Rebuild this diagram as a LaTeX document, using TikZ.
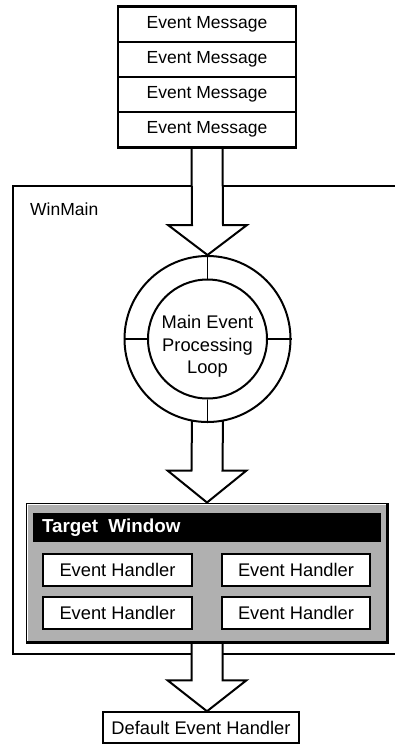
\documentclass[tikz,border=0pt]{standalone}
\usepackage{fontspec}
\setmainfont{Liberation Sans}
\usetikzlibrary{calc}
\pgfdeclarelayer{back}
\pgfdeclarelayer{mid}
\pgfsetlayers{back,mid,main}
\newcommand{\dfont}{\fontsize{18.3}{22.5}\selectfont}
\newcommand{\mfont}{\fontsize{17.5}{22.5}\selectfont}
\begin{document}
\begin{tikzpicture}[x=1pt,y=-1pt,
  msg/.style={draw, line width=1.3pt, minimum width=177pt, minimum height=35pt, inner sep=0pt, font=\mfont, fill=white},
  handler/.style={draw, fill=white, line width=1.8pt, minimum width=148.5pt, minimum height=32pt, inner sep=0pt, font=\dfont},
  barrow/.style={draw, fill=white, line width=2pt, line join=miter},
  ring/.style={circle, draw, line width=2pt, inner sep=0pt},
  tick/.style={line width=1.3pt}]
\useasboundingbox (0,0) rectangle (394,745);

% event messages
\node[msg] (m1) at (207,24.5) {Event Message};
\node[msg] (m2) at (207,59.5) {Event Message};
\node[msg] (m3) at (207,94.5) {Event Message};
\node[msg] (m4) at (207,129.5) {Event Message};
\draw[line width=2.2pt] (m1.north west) rectangle (m4.south east);

% WinMain frame
\begin{pgfonlayer}{back}
\draw[line width=2.5pt] (396,186) -- (13,186) -- (13,654) -- (396,654);
\end{pgfonlayer}
\node[anchor=west, font=\mfont, inner sep=0pt] (winmain) at (30,209) {WinMain};

% main loop
\node[ring, fill=white, minimum size=166pt] (loop) at (207.5,339) {};
\node[ring, minimum size=119pt] (inner) at (207.5,339) {};
\draw[tick] (loop.north) -- (inner.north);
\draw[tick] (loop.south) -- (inner.south);
\draw[tick] (loop.west) -- (inner.west);
\draw[tick] (loop.east) -- (inner.east);
\node[align=center, font=\dfont, inner sep=0pt] (looptext) at (207.5,346.5) {Main Event\\Processing\\Loop};

% target window
\node[draw, line width=1pt, fill=black!31, minimum width=362pt, minimum height=140pt, inner sep=0pt] (target) at (207,573) {};
\draw[line width=3pt] ($(target.south west)+(1,-1.5)$) -- ($(target.south east)+(-1.5,-1.5)$) -- ($(target.north east)+(-1.5,1)$);
\draw[white, line width=1.2pt] ($(target.south west)+(2,-3)$) -- ($(target.north west)+(2,2)$) -- ($(target.north east)+(-3,2)$);
\node[fill=black, minimum width=348pt, minimum height=29pt, inner sep=0pt] (title) at (207,527.5) {};
\node[anchor=west, text=white, font=\bfseries\fontsize{18.8}{22}\selectfont, inner sep=0pt] (titletext) at ($(title.west)+(9,0)$) {Target\ \ Window};
\node[handler] (h1) at (117.5,570) {Event Handler};
\node[handler] (h2) at (296,570) {Event Handler};
\node[handler] (h3) at (117.5,613) {Event Handler};
\node[handler] (h4) at (296,613) {Event Handler};

% default handler
\node[draw, line width=1.5pt, fill=white, minimum width=196pt, minimum height=31pt, inner sep=0pt, font=\dfont] (default) at (201,727.5) {Default Event Handler};

% block arrows
\begin{pgfonlayer}{mid}
\draw[barrow] ($(m4.south)+(-15.5,0)$) -- ($(loop.north)+(-15.5,-30)$) -- ($(loop.north)+(-39.5,-30)$) -- (loop.north) -- ($(loop.north)+(39.5,-30)$) -- ($(loop.north)+(15.5,-30)$) -- ($(m4.south)+(15.5,0)$);
\draw[barrow] ($(loop.south)+(-15.5,-8)$) -- ($(target.north)+(-15.5,-32)$) -- ($(target.north)+(-39.5,-32)$) -- (target.north) -- ($(target.north)+(39.5,-32)$) -- ($(target.north)+(15.5,-32)$) -- ($(loop.south)+(15.5,-8)$);
\coordinate (tip3) at (target.south |- default.north);
\draw[barrow] ($(target.south)+(-15.5,0)$) -- ($(tip3)+(-15.5,-31)$) -- ($(tip3)+(-39.5,-31)$) -- (tip3) -- ($(tip3)+(39.5,-31)$) -- ($(tip3)+(15.5,-31)$) -- ($(target.south)+(15.5,0)$);
\end{pgfonlayer}
\end{tikzpicture}
\end{document}
